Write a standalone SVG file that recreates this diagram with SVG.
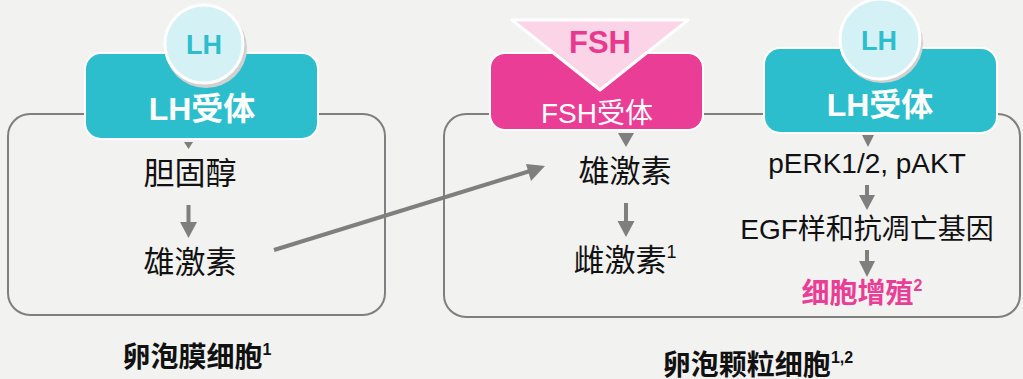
<svg xmlns="http://www.w3.org/2000/svg" width="1023" height="379" viewBox="0 0 1023 379">
<defs>
<style>
text{font-family:"Liberation Sans","Noto Sans CJK SC",sans-serif;text-anchor:middle}
.cell{fill:none;stroke:#7f7f7f;stroke-width:2}
.teal{fill:#2dbecd;stroke:#fff;stroke-width:2}
.pink{fill:#ea3e96;stroke:#fff;stroke-width:2}
.circ{fill:#d4f1f5;stroke:#fff;stroke-width:3}
.shadow{fill:#d0d0d0}
.conn{stroke:#7f7f7f;stroke-width:4;fill:none}
.head{fill:#7f7f7f}
.t{font-size:31px;fill:#111}
.t28{font-size:28px;fill:#111}
.wb{font-size:32px;font-weight:bold;fill:#fff}
.lh{font-size:27px;font-weight:bold;fill:#2dbecd}
.lab{font-size:28px;font-weight:bold;fill:#111}
</style>
<marker id="arr" viewBox="0 0 10 10" refX="9" refY="5" markerWidth="4" markerHeight="4" orient="auto" markerUnits="strokeWidth">
<path d="M0,0 L10,5 L0,10 z" fill="#7f7f7f"/>
</marker>
</defs>
<rect width="1023" height="379" fill="#f2f2f1"/>

<g id="theca-cell">
<rect class="cell" x="8" y="114" width="377" height="201" rx="22"/>
<text class="lab" x="197" y="367">卵泡膜细胞<tspan font-size="16" dy="-12">1</tspan></text>
</g>

<g id="granulosa-cell">
<rect class="cell" x="444" y="114" width="576" height="203" rx="22"/>
<text class="lab" x="758" y="375">卵泡颗粒细胞<tspan font-size="16" dy="-12">1,2</tspan></text>
</g>

<g id="lh-receptor-left">
<rect class="teal" x="85" y="53" width="233" height="86" rx="16"/>
<ellipse class="shadow" cx="206" cy="48" rx="41" ry="40"/>
<circle class="circ" cx="204" cy="44" r="39"/>
<text class="lh" x="204" y="54">LH</text>
<text class="wb" x="202" y="120">LH受体</text>
</g>

<g id="fsh-receptor">
<rect class="pink" x="490" y="53" width="213" height="77" rx="15"/>
<polygon points="512,20 688,20 600,90" fill="#fbd5e7" stroke="#fff" stroke-width="3" stroke-linejoin="round"/>
<text x="600" y="53" font-size="31" font-weight="bold" fill="#e8398f">FSH</text>
<text x="597" y="123" font-size="28" fill="#fff">FSH受体</text>
</g>

<g id="lh-receptor-right">
<rect class="teal" x="764" y="48" width="233" height="85" rx="16"/>
<ellipse class="shadow" cx="882" cy="43" rx="41" ry="40"/>
<circle class="circ" cx="880" cy="39" r="40"/>
<text class="lh" x="879" y="50">LH</text>
<text class="wb" x="880" y="116">LH受体</text>
</g>

<g id="cholesterol"><text class="t" x="190" y="184">胆固醇</text></g>
<g id="androgen-theca"><text class="t" x="190" y="273">雄激素</text></g>
<g id="androgen-granulosa"><text class="t" x="625" y="182">雄激素</text></g>
<g id="estrogen"><text class="t" x="625" y="271">雌激素<tspan font-size="18" dy="-13">1</tspan></text></g>
<g id="perk"><text class="t28" x="867" y="173">pERK1/2, pAKT</text></g>
<g id="egf"><text class="t28" x="867" y="239">EGF样和抗凋亡基因</text></g>
<g id="proliferation"><text x="862" y="303" font-size="28" font-weight="bold" fill="#ea3e96">细胞增殖<tspan font-size="16" dy="-12">2</tspan></text></g>

<g id="connectors">
<polygon class="head" points="184,142 193,142 188.5,149"/>
<polygon class="head" points="618,133 634,133 626,147"/>
<polygon class="head" points="862,135 874,135 868,147"/>
<line class="conn" x1="188.5" y1="205" x2="188.5" y2="223"/>
<polygon class="head" points="180,222 197,222 188.5,238"/>
<line class="conn" x1="626" y1="203" x2="626" y2="222"/>
<polygon class="head" points="617.5,221 634.5,221 626,237"/>
<line class="conn" x1="867" y1="185" x2="867" y2="196"/>
<polygon class="head" points="859,195 875,195 867,210"/>
<line class="conn" x1="867" y1="250" x2="867" y2="262"/>
<polygon class="head" points="859,261 875,261 867,277"/>
<line class="conn" x1="274" y1="250" x2="530" y2="171"/>
<polygon class="head" points="545,166 526,164 531,181"/>
</g>
</svg>
